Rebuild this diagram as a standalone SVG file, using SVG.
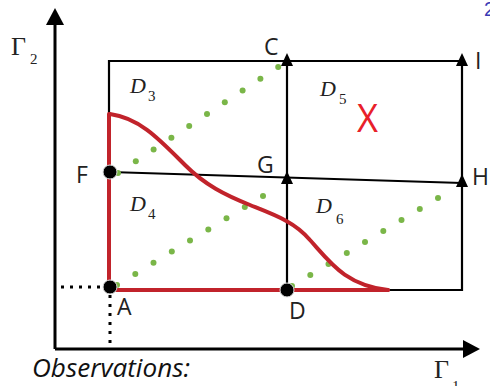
<svg xmlns="http://www.w3.org/2000/svg" width="490" height="386" viewBox="0 0 490 386">
<style>
.ln{stroke:#000;stroke-width:2.2;fill:none}
.ax{stroke:#000;stroke-width:3;fill:none}
.dot{stroke:#000;stroke-width:3;stroke-dasharray:3 6;fill:none}
.red{stroke:#c1232b;stroke-width:4;fill:none;stroke-linecap:round}
.g{fill:#7ab648}
.pt{fill:#000;stroke:#ddd;stroke-width:1}
.lab{font-family:"Open Sans","Liberation Sans",sans-serif;font-size:23px;fill:#222}
.cal{font-family:"Liberation Serif",serif;font-style:italic;font-size:22px;fill:#222}
.sub{font-family:"Liberation Serif",serif;font-size:15px;fill:#222}
.gam{font-family:"Liberation Serif",serif;font-size:26px;fill:#222}
</style>
<defs>
<polygon id="tri" points="0,-9 -6,4 6,4" fill="#000"/>
</defs>
<g id="axes">
<line class="ax" x1="55" y1="349" x2="55" y2="22"/>
<polygon points="55,8 46,25 64,25" fill="#000"/>
<line class="ax" x1="55" y1="349" x2="466" y2="349"/>
<polygon points="480,349 463,340 463,358" fill="#000"/>
<line class="dot" x1="61" y1="287" x2="106" y2="287"/>
<line class="dot" x1="110" y1="295" x2="110" y2="347"/>
<text class="gam" x="11" y="55">Γ</text><text class="sub" x="30" y="64" font-size="17">2</text>
<text class="gam" x="434" y="378">Γ</text><text class="sub" x="452" y="391" font-size="17">1</text>
<text x="484" y="16" font-family="Liberation Sans,sans-serif" font-size="20" fill="#3a3ab5">2</text>
</g>
<g id="connectors">
<path class="ln" d="M109,114 V61 H462 V290 H110"/>
<line class="ln" x1="287" y1="61" x2="287" y2="290"/>
<line class="ln" x1="110" y1="172" x2="462" y2="183"/>
</g>
<g id="greens" class="g">
<circle cx="118" cy="173" r="3"/><circle cx="135.8" cy="161.2" r="3"/><circle cx="153.6" cy="149.4" r="3"/><circle cx="171.4" cy="137.7" r="3"/><circle cx="189.2" cy="125.9" r="3"/><circle cx="207" cy="114.1" r="3"/><circle cx="224.8" cy="102.3" r="3"/><circle cx="242.6" cy="90.6" r="3"/><circle cx="260.4" cy="78.8" r="3"/><circle cx="278.2" cy="67" r="3"/>
<circle cx="117" cy="285" r="3"/><circle cx="135.3" cy="273.9" r="3"/><circle cx="153.5" cy="262.8" r="3"/><circle cx="171.8" cy="251.6" r="3"/><circle cx="190" cy="240.5" r="3"/><circle cx="208.3" cy="229.4" r="3"/><circle cx="226.5" cy="218.3" r="3"/><circle cx="244.8" cy="207.1" r="3"/><circle cx="263" cy="196" r="3"/>
<circle cx="292" cy="286" r="3"/><circle cx="310.3" cy="275" r="3"/><circle cx="328.5" cy="264" r="3"/><circle cx="346.8" cy="253" r="3"/><circle cx="365" cy="242" r="3"/><circle cx="383.3" cy="231" r="3"/><circle cx="401.5" cy="220" r="3"/><circle cx="419.8" cy="209" r="3"/><circle cx="438" cy="198" r="3"/>
</g>
<g id="curve">
<path class="red" d="M110,290 H388"/>
<path class="red" d="M109,287 V114"/>
<path class="red" d="M110,114 C140,118 160,140 185,165 C205,185 225,195 250,205 C275,215 295,222 310,240 C330,262 345,285 388,290"/>
</g>
<g id="C"><use href="#tri" x="287" y="62"/><text class="lab" x="264" y="55">C</text></g>
<g id="I"><use href="#tri" x="462" y="62"/><text class="lab" x="475" y="69">I</text></g>
<g id="G"><use href="#tri" x="287" y="180"/><text class="lab" x="257" y="173">G</text></g>
<g id="H"><use href="#tri" x="462" y="183"/><text class="lab" x="472" y="185">H</text></g>
<g id="F"><circle class="pt" cx="110" cy="172" r="7"/><text class="lab" x="76" y="183">F</text></g>
<g id="A"><circle class="pt" cx="110" cy="287" r="7"/><text class="lab" x="117" y="315">A</text></g>
<g id="D"><circle class="pt" cx="287" cy="290" r="7"/><text class="lab" x="289" y="319">D</text></g>
<g id="D3"><text class="cal" x="130" y="93">D</text><text class="sub" x="148" y="101">3</text></g>
<g id="D5"><text class="cal" x="320" y="96">D</text><text class="sub" x="339" y="104">5</text></g>
<g id="D4"><text class="cal" x="130" y="211">D</text><text class="sub" x="148" y="219">4</text></g>
<g id="D6"><text class="cal" x="316" y="213">D</text><text class="sub" x="336" y="224">6</text></g>
<g id="X"><text x="357" y="132" font-family="Open Sans,Liberation Sans,sans-serif" font-size="39" fill="#e8202a" textLength="21" lengthAdjust="spacingAndGlyphs">X</text></g>
<g id="obs"><text x="32" y="377" font-family="Open Sans,Liberation Sans,sans-serif" font-style="italic" font-size="25" fill="#111" textLength="158" lengthAdjust="spacingAndGlyphs">Observations:</text></g>
</svg>
